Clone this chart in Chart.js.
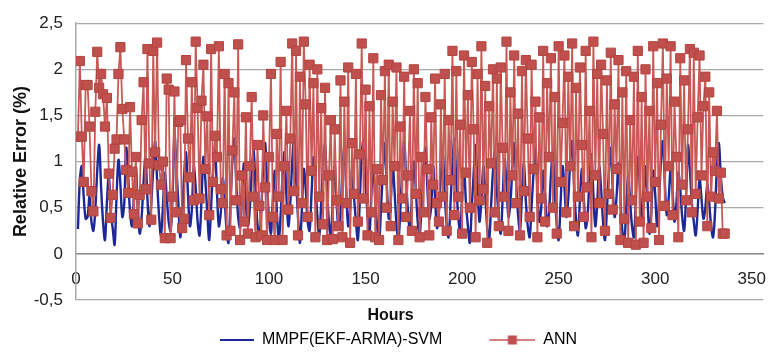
<!DOCTYPE html>
<html>
<head>
<meta charset="utf-8">
<script src="https://cdn.jsdelivr.net/npm/chart.js@4.4.1/dist/chart.umd.min.js"></script>
<style>
  html, body { margin: 0; padding: 0; background: #fff; }
  #chart { display: block; }
</style>
</head>
<body>
<canvas id="chart" width="781" height="353"></canvas>
<script>
// Relative error per hour
const seriesNames = ['MMPF(EKF-ARMA)-SVM', 'ANN'];

const mmpfError = [
  0.27, 0.80, 0.95, 0.62, 0.38, 0.40, 0.62, 0.35, 0.25, 0.48, 0.90, 1.18, 0.72, 0.35, 0.15, 0.55, 0.85, 0.45, 0.28, 0.10, 0.62, 1.02, 0.75, 0.40,
  0.55, 1.15, 0.85, 0.45, 0.30, 0.62, 0.95, 0.50, 0.22, 0.40, 0.78, 1.05, 0.60, 0.30, 0.55, 0.92, 1.22, 0.80, 0.42, 0.20, 0.50, 0.88, 0.62, 0.35,
  0.25, 0.60, 1.28, 0.95, 0.55, 0.18, 0.42, 0.85, 1.10, 0.65, 0.30, 0.48, 0.95, 0.72, 0.35, 0.20, 0.58, 1.05, 0.80, 0.45, 0.15, 0.52, 0.92, 1.15,
  0.68, 0.30, 0.45, 0.82, 0.60, 0.25, 0.12, 0.55, 1.00, 1.25, 0.78, 0.40, 0.28, 0.65, 0.98, 0.55, 0.30, 0.48, 0.88, 1.12, 0.70, 0.32, 0.18, 0.50,
  0.95, 1.20, 0.75, 0.38, 0.22, 0.60, 0.90, 0.48, 0.15, 0.42, 0.85, 1.10, 0.62, 0.30, 0.55, 1.00, 1.28, 0.82, 0.40, 0.12, 0.48, 0.92, 0.70, 0.35,
  0.25, 0.65, 1.05, 0.78, 0.42, 0.20, 0.55, 0.98, 1.18, 0.72, 0.35, 0.18, 0.60, 0.95, 0.55, 0.28, 0.45, 0.88, 1.15, 0.68, 0.30, 0.50, 0.92, 0.62,
  0.35, 0.15, 0.58, 1.08, 1.25, 0.80, 0.42, 0.22, 0.65, 0.95, 0.58, 0.30, 0.12, 0.50, 0.90, 1.20, 0.75, 0.38, 0.55, 0.98, 0.68, 0.32, 0.15, 0.48,
  0.92, 1.22, 0.80, 0.45, 0.25, 0.62, 1.00, 0.70, 0.35, 0.20, 0.55, 0.88, 1.15, 0.72, 0.38, 0.52, 0.95, 0.60, 0.28, 0.45, 0.85, 1.10, 0.65, 0.32,
  0.18, 0.55, 0.98, 1.25, 0.78, 0.40, 0.25, 0.62, 0.92, 0.55, 0.30, 0.12, 0.50, 0.88, 1.18, 0.72, 0.35, 0.58, 0.95, 0.65, 0.28, 0.15, 0.52, 0.90,
  1.12, 0.70, 0.38, 0.22, 0.60, 1.02, 0.75, 0.40, 0.55, 0.92, 1.20, 0.78, 0.42, 0.25, 0.65, 0.98, 0.58, 0.30, 0.18, 0.52, 0.88, 1.15, 0.70, 0.35,
  0.50, 0.90, 0.62, 0.30, 0.45, 0.85, 1.10, 0.68, 0.32, 0.15, 0.55, 0.95, 0.72, 0.40, 0.60, 1.00, 1.22, 0.75, 0.38, 0.20, 0.58, 0.92, 0.62, 0.28,
  0.42, 0.82, 1.08, 0.65, 0.30, 0.55, 0.95, 0.70, 0.35, 0.15, 0.48, 0.88, 1.15, 0.72, 0.40, 0.62, 0.98, 0.60, 0.25, 0.12, 0.50, 0.85, 0.58, 0.30,
  0.18, 0.60, 1.05, 0.78, 0.40, 0.55, 0.95, 0.62, 0.22, 0.45, 0.90, 0.65, 0.30, 0.58, 1.00, 1.22, 0.78, 0.42, 0.60, 0.92, 0.68, 0.35, 0.55, 0.88,
  0.70, 0.40, 0.25, 0.62, 1.18, 0.90, 0.55, 0.35, 0.20, 0.48, 0.82, 0.60, 0.38, 0.50, 0.75, 0.55, 0.30, 0.18, 0.45, 0.95, 1.20, 0.85, 0.62, 0.55
];

const annError = [
  1.27, 2.09, 1.27, 0.78, 1.83, 1.83, 1.38, 0.68, 0.46, 1.54, 2.19, 1.80, 1.95, 1.73, 1.38, 1.69, 0.87, 0.39, 0.64, 1.14, 1.24, 1.95, 2.24, 1.57,
  1.24, 0.91, 0.66, 1.59, 0.89, 0.43, 1.05, 0.33, 0.64, 1.45, 1.86, 0.70, 2.22, 0.98, 0.37, 2.20, 1.10, 2.29, 0.96, 0.75, 1.00, 0.17, 1.90, 1.78,
  0.17, 0.62, 1.76, 0.45, 1.43, 1.45, 0.28, 0.38, 2.10, 1.25, 0.83, 1.86, 0.58, 2.30, 1.58, 0.60, 1.66, 2.05, 0.92, 1.49, 0.42, 2.22, 0.78, 1.28,
  1.05, 2.25, 0.70, 0.55, 1.95, 0.20, 1.85, 0.25, 1.12, 1.75, 0.58, 2.27, 0.15, 0.85, 0.35, 1.48, 0.22, 0.95, 1.70, 0.62, 0.18, 1.18, 0.52, 0.20,
  1.50, 0.72, 0.15, 1.05, 1.95, 0.40, 0.15, 1.30, 0.62, 2.08, 0.15, 0.95, 1.55, 0.48, 1.25, 2.28, 0.68, 2.20, 0.20, 1.92, 0.55, 2.30, 1.62, 0.40,
  2.05, 0.90, 1.85, 0.18, 2.00, 0.62, 1.58, 0.32, 1.80, 0.15, 0.85, 1.45, 0.16, 1.35, 0.58, 0.30, 1.88, 0.18, 1.65, 0.55, 2.02, 0.12, 1.20, 0.65,
  1.95, 0.35, 1.08, 2.28, 0.60, 1.78, 0.20, 1.60, 0.45, 2.12, 0.18, 0.92, 0.15, 1.72, 0.80, 1.98, 0.50, 2.05, 0.30, 1.65, 0.95, 2.02, 0.15, 1.38,
  0.60, 1.92, 0.40, 0.85, 1.55, 0.25, 2.00, 0.65, 1.85, 0.18, 1.05, 0.45, 1.70, 0.92, 0.20, 1.48, 0.75, 1.90, 0.55, 0.35, 1.62, 0.62, 1.95, 0.25,
  1.45, 0.80, 2.20, 0.42, 1.98, 0.62, 1.40, 0.22, 2.15, 0.88, 1.72, 0.50, 2.08, 1.35, 0.18, 1.95, 0.58, 2.25, 0.70, 1.82, 0.12, 1.60, 0.98, 2.00,
  0.45, 1.90, 0.30, 2.02, 1.15, 0.62, 2.30, 0.25, 1.75, 0.85, 2.15, 0.55, 1.52, 0.20, 1.98, 0.68, 2.10, 1.25, 0.40, 2.05, 0.92, 1.65, 0.18, 1.48,
  0.60, 2.20, 0.35, 1.85, 1.05, 2.12, 0.50, 1.70, 0.22, 2.25, 0.78, 1.42, 2.15, 0.45, 1.92, 0.95, 2.28, 0.30, 1.80, 0.62, 2.02, 1.18, 0.40, 2.20,
  0.72, 1.55, 0.18, 2.30, 0.85, 1.95, 0.55, 2.05, 1.30, 0.25, 1.88, 0.65, 2.18, 0.48, 1.62, 0.92, 2.10, 0.15, 1.75, 0.38, 1.98, 0.12, 1.45, 0.58,
  1.92, 0.10, 2.20, 0.35, 1.70, 0.12, 2.00, 0.62, 1.55, 0.28, 2.25, 0.78, 1.85, 0.15, 1.40, 2.28, 0.52, 1.90, 0.95, 2.25, 0.42, 1.65, 1.05, 0.18,
  2.12, 0.75, 1.88, 0.58, 1.35, 2.22, 0.45, 2.18, 0.65, 1.48, 2.15, 0.85, 1.60, 1.92, 0.30, 1.75, 0.62, 1.10, 0.90, 1.55, 0.60, 0.88, 0.22, 0.22
];

// hour index of each sample (1..336)
const hours = mmpfError.map((_, i) => i + 1);

const xTicks = [0, 50, 100, 150, 200, 250, 300, 350];
const yTicks = [-0.5, 0, 0.5, 1, 1.5, 2, 2.5];

const BLUE = '#1d2797';
const RED = '#c0504d';
const RED_LINE = '#c85955';
const GRID = '#a8a8a8';
const FONT = 'Liberation Sans, Arial, sans-serif';

// legend swatches drawn right-aligned in a 50px box: plain line / line with square
const SWATCH_W = 50;
function makeSwatch(color, lineLen, withSquare) {
  const c = document.createElement('canvas');
  c.width = SWATCH_W; c.height = 12;
  const g = c.getContext('2d');
  g.strokeStyle = withSquare ? RED_LINE : color;
  g.lineWidth = withSquare ? 1.5 : 2;
  g.beginPath();
  g.moveTo(SWATCH_W - lineLen, 6);
  g.lineTo(SWATCH_W, 6);
  g.stroke();
  if (withSquare) {
    const cx = SWATCH_W - lineLen / 2;
    g.fillStyle = color;
    g.fillRect(cx - 4.5, 1.5, 9, 9);
  }
  return c;
}
const swatches = [makeSwatch(BLUE, 34, false), makeSwatch(RED, 46, true)];
// extra gap after the first legend entry
const legendGap = ['\u00a0'.repeat(9), ''];

const toPoints = vals => vals.map((v, i) => ({ x: hours[i], y: v }));

new Chart(document.getElementById('chart'), {
  type: 'line',
  data: {
    datasets: [
      {
        label: seriesNames[0],
        data: toPoints(mmpfError),
        borderColor: BLUE,
        borderWidth: 2.4,
        pointRadius: 0,
        tension: 0.35,
        order: 1
      },
      {
        label: seriesNames[1],
        data: toPoints(annError),
        borderColor: RED_LINE,
        borderWidth: 1.8,
        pointStyle: 'rect',
        pointRadius: 6.5,
        pointBackgroundColor: RED,
        pointBorderColor: '#b3443f',
        pointBorderWidth: 1,
        tension: 0,
        order: 0
      }
    ]
  },
  options: {
    responsive: false,
    animation: false,
    devicePixelRatio: 1,
    layout: { padding: { top: 21, right: 0, bottom: -5, left: 0 } },
    scales: {
      x: {
        type: 'linear',
        position: { y: 0 },
        min: 0,
        max: 356,
        afterBuildTicks: s => { s.ticks = xTicks.map(v => ({ value: v })); },
        grid: { display: false, drawTicks: false },
        border: { display: true, color: '#8c8c8c', width: 1.5 },
        ticks: {
          padding: 15,
          maxRotation: 0,
          color: '#222',
          font: { family: FONT, size: 17 }
        }
      },
      y: {
        min: -0.5,
        max: 2.5,
        afterBuildTicks: s => { s.ticks = yTicks.map(v => ({ value: v })); },
        afterFit: s => { s.width = 76; },
        grid: { color: GRID, lineWidth: 1.3, drawTicks: false },
        border: { display: true, color: GRID, width: 1.5 },
        ticks: {
          padding: 13,
          color: '#222',
          font: { family: FONT, size: 17 },
          callback: v => String(v).replace('.', ',')
        },
        title: {
          display: true,
          text: 'Relative Error (%)',
          color: '#111',
          font: { family: FONT, size: 18, weight: 'bold' },
          padding: { top: 10, bottom: 0 }
        }
      }
    },
    plugins: {
      title: {
        display: true,
        position: 'bottom',
        weight: 500,
        text: 'Hours',
        color: '#111',
        font: { family: FONT, size: 16, weight: 'bold', lineHeight: 1 },
        padding: { top: 8, bottom: 5 }
      },
      legend: {
        position: 'bottom',
        weight: 1000,
        labels: {
          usePointStyle: true,
          pointStyleWidth: SWATCH_W,
          padding: 3,
          color: '#222',
          font: { family: FONT, size: 16 },
          generateLabels: chart => chart.data.datasets.map((ds, i) => ({
            text: ds.label + legendGap[i],
            datasetIndex: i,
            pointStyle: swatches[i],
            fillStyle: 'transparent',
            strokeStyle: 'transparent',
            lineWidth: 0,
            hidden: false
          }))
        }
      },
      tooltip: { enabled: false }
    }
  }
});
</script>
</body>
</html>
